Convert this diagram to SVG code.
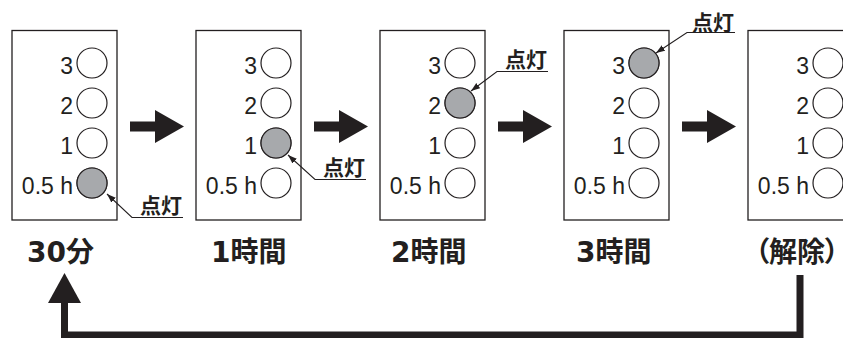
<svg xmlns="http://www.w3.org/2000/svg" width="843" height="338" viewBox="0 0 843 338">
<defs>
<style>
.box{fill:#fff;stroke:#231f20;stroke-width:1.3}
.led{fill:#fff;stroke:#231f20;stroke-width:1.2}
.on{fill:#a7a9ac;stroke:#231f20;stroke-width:1.2}
.lbl{font-family:"Liberation Sans",Arial,sans-serif;font-size:23px;fill:#231f20;text-anchor:end}
.call{fill:none;stroke:#231f20;stroke-width:1.1}
.ct{font-family:"Noto Sans CJK JP",sans-serif;font-size:21px;font-weight:700;fill:#231f20}
.cap{font-family:"Noto Sans CJK JP",sans-serif;font-size:28px;font-weight:700;fill:#231f20}
.palt{font-feature-settings:"palt" 1}
.dg{font-family:"DejaVu Sans",sans-serif;font-weight:700}
.big{fill:#231f20}
.ret{fill:none;stroke:#231f20;stroke-width:7;stroke-linejoin:miter}
</style>
<marker id="ah" markerUnits="userSpaceOnUse" markerWidth="10" markerHeight="8" refX="9" refY="4" orient="auto">
<path d="M0,0.8 L9,4 L0,7.2 Z" fill="#231f20"/>
</marker>
<g id="leds">
<circle class="led" cx="0" cy="63" r="15"/>
<circle class="led" cx="0" cy="103" r="15"/>
<circle class="led" cx="0" cy="143" r="15"/>
<circle class="led" cx="0" cy="183" r="15"/>
<text class="lbl" x="-19" y="74">3</text>
<text class="lbl" x="-19" y="114">2</text>
<text class="lbl" x="-19" y="154">1</text>
<text class="lbl" x="-19" y="194">0.5 h</text>
</g>
</defs>
<rect width="843" height="338" fill="#fff"/>

<g id="panel-30min">
<rect class="box" x="12" y="30.5" width="105" height="189.5"/>
<use href="#leds" x="92" y="0"/>
<circle class="on" cx="92" cy="183" r="15"/>
<path class="call" d="M183,217.5 H132 L107,194" marker-end="url(#ah)"/>
<text class="ct" x="140" y="213">点灯</text>
<text class="cap" x="27" y="262"><tspan class="dg">30</tspan>分</text>
</g>

<g id="panel-1h">
<rect class="box" x="196" y="30.5" width="105" height="189.5"/>
<use href="#leds" x="276" y="0"/>
<circle class="on" cx="276" cy="143" r="15"/>
<path class="call" d="M366,179.5 H315 L288,155" marker-end="url(#ah)"/>
<text class="ct" x="323" y="175">点灯</text>
<text class="cap" x="211" y="262"><tspan class="dg">1</tspan>時間</text>
</g>

<g id="panel-2h">
<rect class="box" x="380" y="30.5" width="105" height="189.5"/>
<use href="#leds" x="460" y="0"/>
<circle class="on" cx="460" cy="103" r="15"/>
<path class="call" d="M548,71.5 H497 L471,91" marker-end="url(#ah)"/>
<text class="ct" x="505" y="67">点灯</text>
<text class="cap" x="391" y="262"><tspan class="dg">2</tspan>時間</text>
</g>

<g id="panel-3h">
<rect class="box" x="564" y="30.5" width="105" height="189.5"/>
<use href="#leds" x="644" y="0"/>
<circle class="on" cx="644" cy="63" r="15"/>
<path class="call" d="M735,32.5 H687 L656,53" marker-end="url(#ah)"/>
<text class="ct" x="692" y="30">点灯</text>
<text class="cap" x="576" y="262"><tspan class="dg">3</tspan>時間</text>
</g>

<g id="panel-release">
<rect class="box" x="748" y="30.5" width="105" height="189.5"/>
<use href="#leds" x="828" y="0"/>
<text class="cap palt" x="755" y="262">（解除）</text>
</g>

<g id="connectors">
<polygon class="big" points="130,121.5 155,121.5 155,110 184,126.5 155,143 155,131.5 130,131.5"/>
<polygon class="big" points="314,121.5 339,121.5 339,110 368,126.5 339,143 339,131.5 314,131.5"/>
<polygon class="big" points="498,121.5 523,121.5 523,110 552,126.5 523,143 523,131.5 498,131.5"/>
<polygon class="big" points="682,121.5 707,121.5 707,110 736,126.5 707,143 707,131.5 682,131.5"/>
<path class="ret" d="M800,275 V335 H64.5 V300"/>
<polygon class="big" points="48,303 81,303 64.5,273"/>
</g>
</svg>
